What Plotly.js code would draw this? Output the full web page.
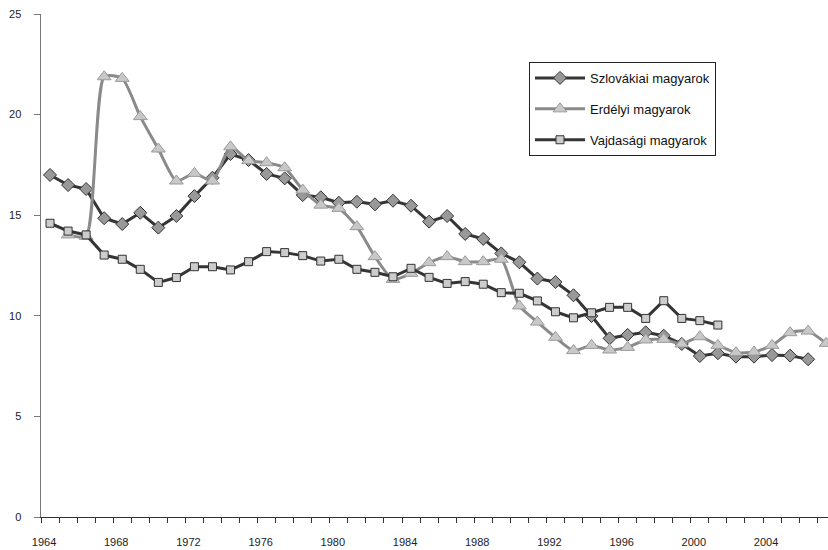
<!DOCTYPE html>
<html>
<head>
<meta charset="utf-8">
<script src="https://cdn.plot.ly/plotly-3.0.1.min.js"></script>
<style>html,body{margin:0;padding:0;background:#fff;} #chart{width:828px;height:550px;}</style>
</head>
<body>
<div id="chart"></div>
<script>
const yearsSzlovakia = [1964,1965,1966,1967,1968,1969,1970,1971,1972,1973,1974,1975,1976,1977,1978,1979,1980,1981,1982,1983,1984,1985,1986,1987,1988,1989,1990,1991,1992,1993,1994,1995,1996,1997,1998,1999,2000,2001,2002,2003,2004,2005,2006];
const szlovakiai = [17.0,16.5,16.3,14.85,14.56,15.12,14.38,14.96,15.95,16.86,18.04,17.74,17.05,16.83,16.0,15.89,15.62,15.67,15.54,15.72,15.47,14.68,14.96,14.07,13.82,13.1,12.66,11.85,11.68,11.02,9.99,8.88,9.05,9.18,9.01,8.6,8.0,8.14,7.97,7.97,8.05,8.02,7.84];

const yearsErdely = [1965,1966,1967,1968,1969,1970,1971,1972,1973,1974,1975,1976,1977,1978,1979,1980,1981,1982,1983,1984,1985,1986,1987,1988,1989,1990,1991,1992,1993,1994,1995,1996,1997,1998,1999,2000,2001,2002,2003,2004,2005,2006,2007];
const erdelyi = [14.02,13.95,21.88,21.8,19.9,18.29,16.7,17.08,16.7,18.4,17.71,17.61,17.36,16.25,15.5,15.34,14.43,12.94,11.81,12.11,12.64,12.94,12.69,12.69,12.81,10.49,9.69,8.93,8.27,8.53,8.3,8.43,8.8,8.83,8.6,8.96,8.53,8.17,8.2,8.53,9.16,9.24,8.63];

const yearsVajdasag = [1964,1965,1966,1967,1968,1969,1970,1971,1972,1973,1974,1975,1976,1977,1978,1979,1980,1981,1982,1983,1984,1985,1986,1987,1988,1989,1990,1991,1992,1993,1994,1995,1996,1997,1998,1999,2000,2001];
const vajdasagi = [14.6,14.21,14.02,13.02,12.81,12.31,11.66,11.9,12.44,12.44,12.28,12.69,13.19,13.14,12.99,12.72,12.81,12.31,12.16,11.94,12.36,11.91,11.61,11.7,11.57,11.15,11.12,10.74,10.2,9.9,10.15,10.42,10.42,9.87,10.75,9.87,9.76,9.54];

const xTickLabels = [1964,1968,1972,1976,1980,1984,1988,1992,1996,2000,2004];
const yearBoundaries = [];
for (let y = 1963.5; y <= 2007.5; y += 1) yearBoundaries.push(y);

const traces = [
  {
    x: yearsSzlovakia, y: szlovakiai, name: 'Szlovákiai magyarok', type: 'scatter', mode: 'lines+markers',
    legendgroup: 'a',
    line: {color: '#353535', width: 3},
    marker: {symbol: 'diamond', size: 10, color: '#999999', line: {color: '#333333', width: 1}}
  },
  {
    x: yearsErdely, y: erdelyi, name: 'Erdélyi magyarok', type: 'scatter', mode: 'lines+markers',
    legendgroup: 'b',
    line: {color: '#8a8a8a', width: 3, shape: 'spline', smoothing: 0.6},
    marker: {symbol: 'triangle-up', size: 12, color: '#c8c8c8', line: {color: '#9a9a9a', width: 1}}
  },
  {
    x: yearsVajdasag, y: vajdasagi, name: 'Vajdasági magyarok', type: 'scatter', mode: 'lines+markers',
    legendgroup: 'c',
    line: {color: '#353535', width: 3},
    marker: {symbol: 'square', size: 8, color: '#cccccc', line: {color: '#333333', width: 1}}
  }
];

const plotW = 828 - 41, plotH = 550 - 14 - 33;

const layout = {
  width: 828, height: 550,
  margin: {l: 41, r: 0, t: 14, b: 33},
  paper_bgcolor: '#ffffff', plot_bgcolor: '#ffffff',
  font: {family: 'Arial, Liberation Sans, sans-serif', size: 11, color: '#222'},
  showlegend: true,
  legend: {
    x: (529 - 41) / plotW, y: 1 - (62 - 14) / plotH, xanchor: 'left', yanchor: 'top',
    bgcolor: '#ffffff', bordercolor: '#222', borderwidth: 1,
    font: {size: 13, color: '#111'},
    itemwidth: 50,
    traceorder: 'grouped', tracegroupgap: 11
  },
  xaxis: {
    range: [1963.5, 2007.1],
    tickmode: 'array', tickvals: xTickLabels, ticktext: xTickLabels.map(String),
    ticks: '', showgrid: false, zeroline: false,
    showline: true, linecolor: '#333', linewidth: 1,
    ticklabelstandoff: 15, ticklabelshift: -6,
    tickfont: {size: 11, color: '#222'},
    minor: {tickmode: 'array', tickvals: yearBoundaries, ticks: 'outside', ticklen: 5, tickcolor: '#333', tickwidth: 1, showgrid: false}
  },
  yaxis: {
    range: [0, 25], tickmode: 'linear', tick0: 0, dtick: 5,
    ticks: 'outside', ticklen: 6, tickcolor: '#777', tickwidth: 1,
    showgrid: false, zeroline: false,
    showline: true, linecolor: '#777', linewidth: 1.5,
    ticklabelstandoff: 10,
    tickfont: {size: 11, color: '#222'}
  }
};

Plotly.newPlot('chart', traces, layout, {displayModeBar: false, staticPlot: true});
</script>
</body>
</html>
